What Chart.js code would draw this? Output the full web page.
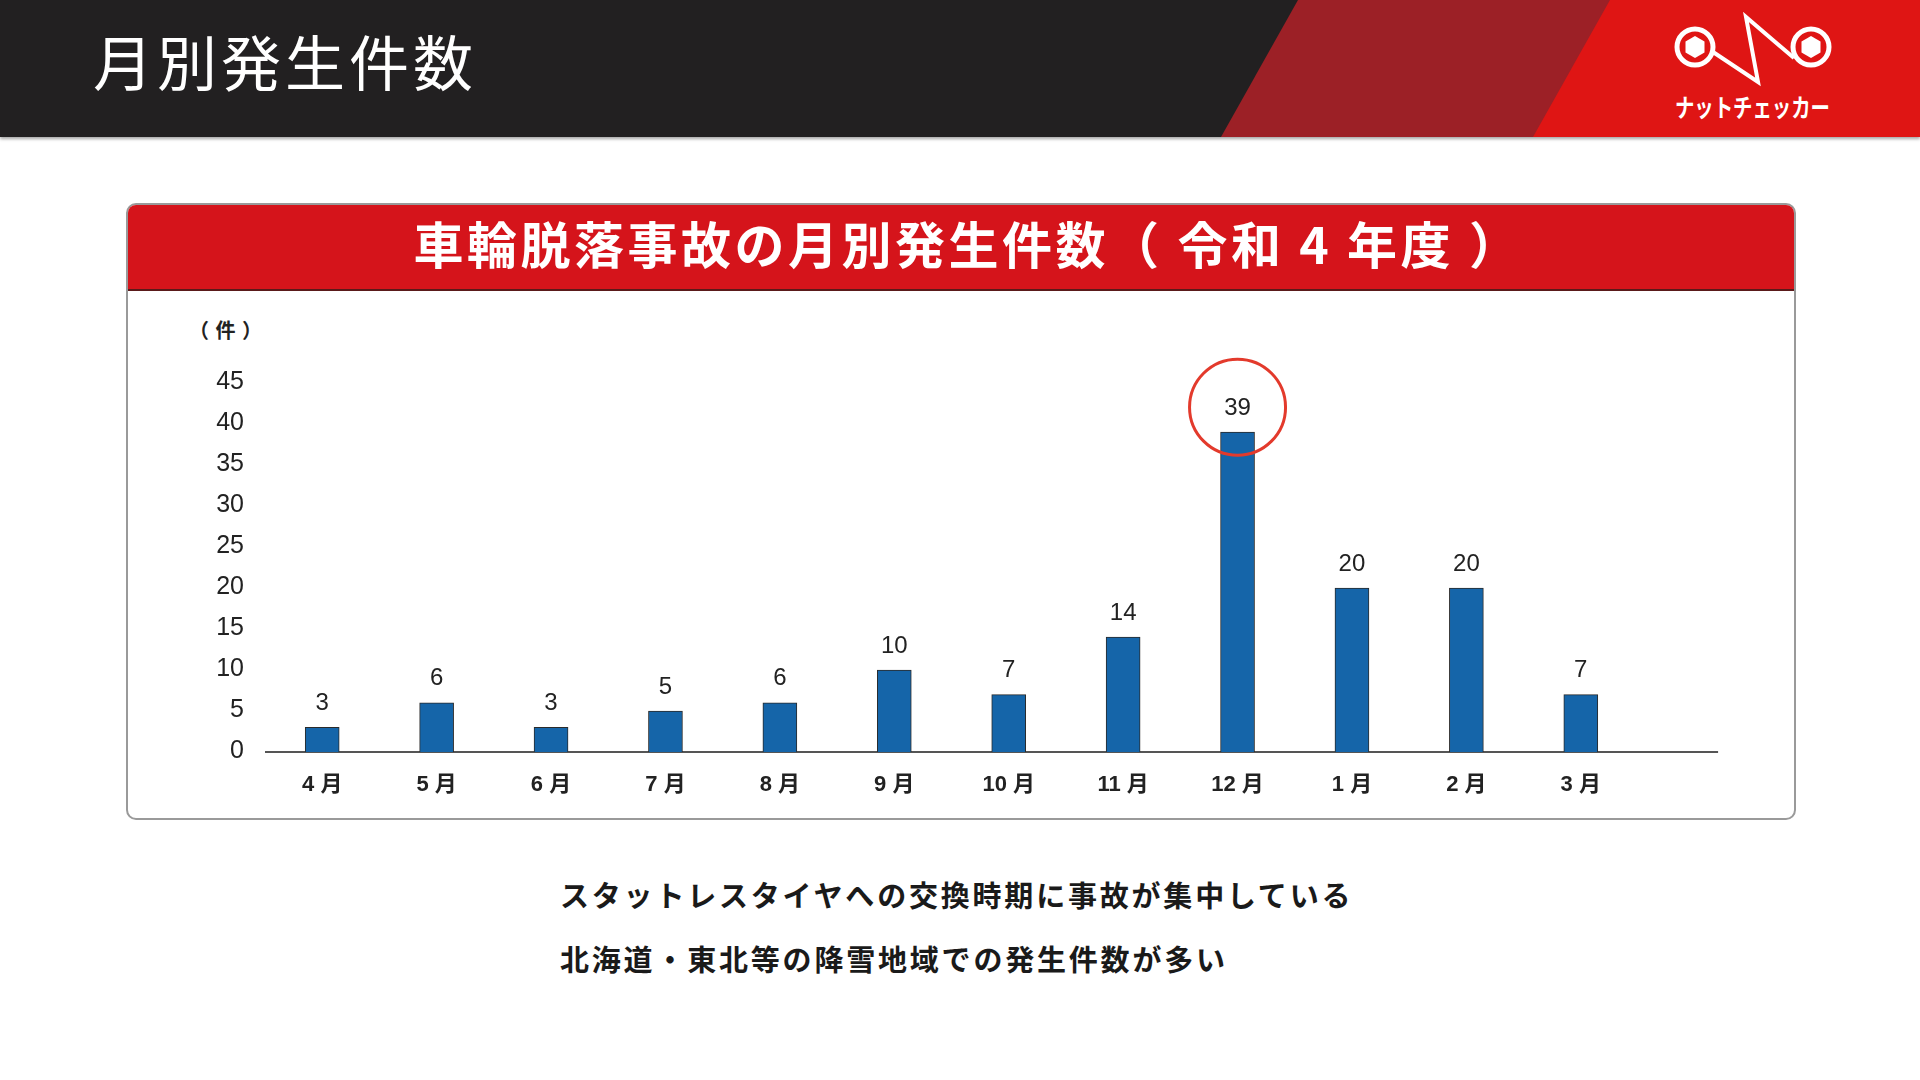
<!DOCTYPE html>
<html lang="ja">
<head>
<meta charset="utf-8">
<title>月別発生件数</title>
<script src="https://cdn.jsdelivr.net/npm/chart.js@4.4.1/dist/chart.umd.min.js"></script>
<style>
  html, body { margin: 0; padding: 0; background: #fff; }
  body { width: 1920px; height: 1080px; position: relative; overflow: hidden;
         font-family: "Noto Sans CJK JP", "Noto Sans", sans-serif; }
  #header { position: absolute; left: 0; top: 0; width: 1920px; height: 137px;
            box-shadow: 0 2px 3px rgba(0,0,0,0.35); }
  #header svg { position: absolute; left: 0; top: 0; }
  #pageTitle { position: absolute; left: 93px; top: 20px; color: #fff; font-size: 60px;
               font-weight: 400; letter-spacing: 4px; line-height: 80px; }
  #box { position: absolute; left: 126px; top: 203px; width: 1666px; height: 613px;
         border: 2px solid #9a9a9a; border-radius: 10px; overflow: hidden; }
  #boxHead { height: 84px; background: #d5141b; border-bottom: 2px solid #5a1a1a;
             color: #fff; font-weight: 700; font-size: 50px; letter-spacing: 3.5px;
             text-align: center; line-height: 74px; padding-left: 14px; }
  #unit { position: absolute; left: 189px; top: 315px; font-size: 20px; font-weight: 700;
          color: #222; line-height: 30px; letter-spacing: 1px; }
  .note { position: absolute; left: 560px; font-size: 29px; font-weight: 700; color: #1a1a1a;
          letter-spacing: 2.8px; line-height: 40px; }
  #js--chart { position: absolute; left: 0; top: 0; }
</style>
</head>
<body>

<div id="header">
  <svg width="1920" height="137">
    <rect x="0" y="0" width="1920" height="137" fill="#222021"/>
    <polygon points="1298,0 1612,0 1534,137 1221,137" fill="#9c2026"/>
    <polygon points="1610,0 1920,0 1920,137 1533,137" fill="#df1514"/>
    <!-- logo -->
    <g stroke="#fff" fill="none" stroke-width="5">
      <circle cx="1695" cy="47" r="18"/>
      <circle cx="1811" cy="47" r="18"/>
      <polyline points="1713,52 1758,82 1746,17 1794,58" stroke-width="4" stroke-linejoin="miter"/>
    </g>
    <polygon points="1695,36 1704.5,41.5 1704.5,52.5 1695,58 1685.5,52.5 1685.5,41.5" fill="#fff"/>
    <polygon points="1811,36 1820.5,41.5 1820.5,52.5 1811,58 1801.5,52.5 1801.5,41.5" fill="#fff"/>
    <text x="1675" y="117" fill="#fff" font-size="25" font-weight="700" textLength="155"
          lengthAdjust="spacingAndGlyphs" font-family="Noto Sans CJK JP">ナットチェッカー</text>
  </svg>
  <div id="pageTitle">月別発生件数</div>
</div>

<div id="box">
  <div id="boxHead">車輪脱落事故の月別発生件数（ 令和 4 年度 ）</div>
</div>
<div id="unit">（ 件 ）</div>

<div class="note" style="top:874px">スタットレスタイヤへの交換時期に事故が集中している</div>
<div class="note" style="top:938px">北海道・東北等の降雪地域での発生件数が多い</div>

<canvas id="js--chart" width="1920" height="1080"></canvas>

<script>
const months = ['4 月', '5 月', '6 月', '7 月', '8 月', '9 月', '10 月', '11 月', '12 月', '1 月', '2 月', '3 月'];
const counts = [3, 6, 3, 5, 6, 10, 7, 14, 39, 20, 20, 7];
const yMin = 0;
const yMax = 45;
const yStep = 5;
const highlightMonth = '12 月';

const numFont = '"Liberation Sans", "Noto Sans CJK JP", sans-serif';

// value above every bar, and the red ring round the highlighted one
const valueLabels = {
  id: 'valueLabels',
  afterDatasetsDraw(chart) {
    const ctx = chart.ctx;
    const bars = chart.getDatasetMeta(0).data;
    ctx.save();
    ctx.font = '24px ' + numFont;
    ctx.fillStyle = '#222';
    ctx.textAlign = 'center';
    ctx.textBaseline = 'middle';
    bars.forEach(function(bar, i){
      ctx.fillText(counts[i], bar.x, bar.y - 24);
      if(months[i] === highlightMonth){
        ctx.beginPath();
        ctx.strokeStyle = '#e33a2c';
        ctx.lineWidth = 3;
        ctx.arc(bar.x, bar.y - 25, 48, 0, Math.PI * 2);
        ctx.stroke();
      }
    });
    ctx.restore();
  }
};

// base line, runs a bit past the last month like in the slide
const baseLine = {
  id: 'baseLine',
  beforeDatasetsDraw(chart) {
    const ctx = chart.ctx;
    const x = chart.scales.x;
    const y = chart.scales.y.getPixelForValue(0);
    const step = x.getPixelForValue(1) - x.getPixelForValue(0);
    ctx.save();
    ctx.strokeStyle = '#555';
    ctx.lineWidth = 2;
    ctx.beginPath();
    ctx.moveTo(chart.chartArea.left, y);
    ctx.lineTo(x.getPixelForValue(months.length - 1) + step * 1.2, y);
    ctx.stroke();
    ctx.restore();
  }
};

const data = {
  labels: months,
  datasets: [{
    label: '件数',
    data: counts,
    backgroundColor: '#1565a9',
    borderColor: '#2a2a2a',
    borderWidth: 1,
    borderSkipped: 'bottom',
    barThickness: 34
  }]
};

const config = {
  type: 'bar',
  data: data,
  options: {
    responsive: false,
    animation: false,
    devicePixelRatio: 1,
    layout: { padding: { left: 0, right: 282, top: 383, bottom: 268 } },
    plugins: {
      legend: { display: false },
      tooltip: { enabled: false }
    },
    scales: {
      x: {
        grid: { display: false, drawTicks: false },
        border: { display: false },
        ticks: {
          color: '#222',
          padding: 20,
          font: { family: numFont, size: 22, weight: 'bold' }
        },
        afterFit(scale) { scale.height = 60; }
      },
      y: {
        min: yMin,
        max: yMax,
        grid: { display: false, drawTicks: false },
        border: { display: false },
        ticks: {
          stepSize: yStep,
          color: '#222',
          padding: 21,
          labelOffset: -1,
          font: { family: numFont, size: 25 }
        },
        afterFit(scale) { scale.width = 265; }
      }
    }
  },
  plugins: [baseLine, valueLabels]
};

const chart1 = new Chart(document.getElementById('js--chart'), config);
</script>
</body>
</html>
